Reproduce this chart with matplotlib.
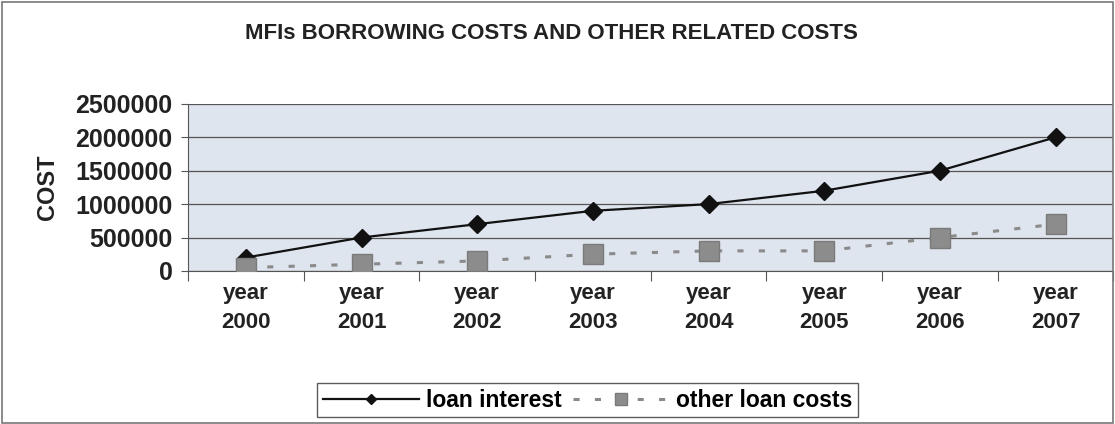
import numpy as np
import matplotlib.pyplot as plt
from matplotlib.patches import Rectangle

years = ['year\n2000', 'year\n2001', 'year\n2002', 'year\n2003',
         'year\n2004', 'year\n2005', 'year\n2006', 'year\n2007']
loan_interest = [200000, 500000, 700000, 900000, 1000000, 1200000, 1500000, 2000000]
other_costs = [50000, 100000, 150000, 250000, 300000, 300000, 500000, 700000]

plt.rcParams['font.family'] = ['Liberation Sans', 'DejaVu Sans']

fig = plt.figure(figsize=(11.15, 4.24), dpi=100)
# outer chart border
fig.patches.append(Rectangle((0.002, 0.002), 0.996, 0.993, transform=fig.transFigure,
                             fill=False, edgecolor='#777777', linewidth=1.2))

ax = fig.add_axes([0.1686, 0.361, 0.830, 0.394])
ax.set_facecolor('#dfe5ee')

x = np.arange(len(years))
ax.plot(x, loan_interest, color='#111111', linewidth=1.6, marker='D',
        markersize=9, markerfacecolor='#111111', label='loan interest', zorder=3)
ax.plot(x, other_costs, color='#8a8a8a', linewidth=2.2, linestyle=(0, (2, 5)),
        marker='s', markersize=14, markerfacecolor='#8c8c8c',
        markeredgecolor='#7a7a7a', label='other loan costs', zorder=3)

ax.set_xlim(-0.5, 7.5)
ax.set_ylim(0, 2500000)
ax.set_yticks(np.arange(0, 2500001, 500000))
ax.set_yticklabels([str(v) for v in range(0, 2500001, 500000)],
                   fontsize=18, fontweight='bold', color='#222222')
ax.yaxis.grid(True, color='#555555', linewidth=0.9)
ax.set_axisbelow(True)

# category labels centred, tick marks between categories
ax.set_xticks(np.arange(-0.5, 8, 1))
ax.set_xticklabels([])
ax.set_xticks(x, minor=True)
ax.set_xticklabels(years, minor=True, fontsize=16, fontweight='bold',
                   color='#222222', linespacing=1.45)
ax.tick_params(axis='x', which='minor', length=0, pad=9)
ax.tick_params(axis='x', which='major', length=7, color='#555555', direction='out')
ax.tick_params(axis='y', length=5, color='#555555', pad=6)

for side in ['top', 'right']:
    ax.spines[side].set_visible(False)
ax.spines['left'].set_color('#555555')
ax.spines['bottom'].set_color('#555555')

ax.set_ylabel('COST', fontsize=17, fontweight='bold', color='#222222', labelpad=12)

fig.text(0.495, 0.922, 'MFIs BORROWING COSTS AND OTHER RELATED COSTS',
         ha='center', va='center', fontsize=16, fontweight='bold',
         color='#222222')

leg = fig.legend(loc='center', bbox_to_anchor=(0.527, 0.056), ncol=2,
                 prop={'weight': 'bold', 'size': 16.5},
                 frameon=True, fancybox=False, edgecolor='#333333',
                 handlelength=4.2, columnspacing=0.5, handletextpad=0.3,
                 borderpad=0.25, markerscale=0.6)
leg.get_frame().set_linewidth(1.0)

fig.savefig('out.png', dpi=100)
